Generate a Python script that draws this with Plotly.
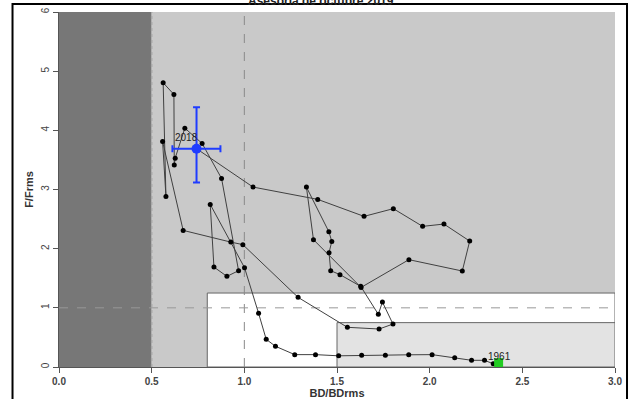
import plotly.graph_objects as go

# trajectory, 1961 -> 2018
bd = [2.343, 2.296, 2.226, 2.135, 2.013, 1.887, 1.761, 1.633, 1.509, 1.384, 1.272,
      1.168, 1.118, 1.077, 1.001, 0.816, 0.836, 0.906, 0.969, 0.877, 0.772, 0.679,
      0.627, 0.622, 0.620, 0.562, 0.577, 0.559, 0.670, 0.927, 0.992, 1.290, 1.556,
      1.727, 1.802, 1.745, 1.723, 1.628, 1.516, 1.466, 1.457, 1.472, 1.456, 1.335,
      1.373, 1.630, 1.888, 2.176, 2.216, 2.077, 1.962, 1.804, 1.646, 1.396, 1.047,
      0.742]
f = [0.054, 0.113, 0.113, 0.155, 0.209, 0.206, 0.198, 0.198, 0.189, 0.209, 0.209,
     0.350, 0.468, 0.907, 1.679, 2.748, 1.689, 1.532, 1.628, 3.188, 3.779, 4.037,
     3.530, 3.412, 4.606, 4.804, 2.883, 3.813, 2.309, 2.111, 2.068, 1.177, 0.671,
     0.642, 0.726, 1.098, 0.890, 1.363, 1.561, 1.628, 1.932, 2.123, 2.287, 3.041,
     2.152, 1.345, 1.814, 1.622, 2.128, 2.416, 2.377, 2.676, 2.546, 2.833, 3.041,
     3.690]

first_year = "1961"
last_year = "2018"
first_pt = (2.372, 0.074)
last_pt = (0.742, 3.690)
last_x_ci = (0.612, 0.871)
last_y_ci = (3.12, 4.39)

x_ticks = [0.0, 0.5, 1.0, 1.5, 2.0, 2.5, 3.0]
x_tick_text = ["0.0", "0.5", "1.0", "1.5", "2.0", "2.5", "3.0"]
y_ticks = [0, 1, 2, 3, 4, 5, 6]

FONT = "Liberation Sans, Arial, sans-serif"

fig = go.Figure()

# background zones
zones = [
    (0.0, 0.5, 0.0, 6.0, "#777777", None),
    (0.5, 3.0, 0.0, 6.0, "#c9c9c9", None),
    (0.8, 3.0, 0.0, 1.25, "#ffffff", "#666666"),
    (1.5, 3.0, 0.0, 0.75, "#e3e3e3", "#666666"),
]
for x0, x1, y0, y1, fill, edge in zones:
    fig.add_shape(type="rect", x0=x0, x1=x1, y0=y0, y1=y1, layer="below",
                  fillcolor=fill, line=dict(width=1 if edge else 0, color=edge or fill))

# reference lines
fig.add_shape(type="line", x0=0.5, x1=0.5, y0=0, y1=6, layer="below",
              line=dict(color="#a8a8a8", width=1.5, dash="dot"))
fig.add_shape(type="line", x0=1.0, x1=1.0, y0=0, y1=6, layer="below",
              line=dict(color="#8a8a8a", width=1, dash="dash"))
fig.add_shape(type="line", x0=0, x1=3, y0=1, y1=1, layer="below",
              line=dict(color="#999999", width=1, dash="dash"))

fig.add_trace(go.Scatter(
    x=bd, y=f, mode="lines+markers",
    line=dict(color="#404040", width=1),
    marker=dict(color="black", size=5),
    hoverinfo="skip", showlegend=False,
))

# last year with uncertainty
fig.add_trace(go.Scatter(
    x=[last_pt[0]], y=[last_pt[1]], mode="markers",
    marker=dict(color="#1f3cff", size=10),
    error_x=dict(type="data", symmetric=False,
                 array=[last_x_ci[1] - last_pt[0]], arrayminus=[last_pt[0] - last_x_ci[0]],
                 color="#1f3cff", thickness=2, width=3.5),
    error_y=dict(type="data", symmetric=False,
                 array=[last_y_ci[1] - last_pt[1]], arrayminus=[last_pt[1] - last_y_ci[0]],
                 color="#1f3cff", thickness=2, width=3.5),
    showlegend=False, hoverinfo="skip",
))

# first year
fig.add_trace(go.Scatter(
    x=[first_pt[0]], y=[first_pt[1]], mode="markers",
    marker=dict(color="#22cc22", size=9, symbol="square"),
    showlegend=False, hoverinfo="skip",
))

fig.add_annotation(x=0.688, y=3.885, text=last_year, showarrow=False,
                   font=dict(family=FONT, size=10, color="#222"))
fig.add_annotation(x=2.377, y=0.18, text=first_year, showarrow=False,
                   font=dict(family=FONT, size=10, color="#222"))

# title, cut off by the top edge in the reference
fig.add_annotation(xref="paper", yref="paper", x=0.471, y=1.006, yanchor="bottom",
                   text="<b>Asesoría de octubre 2019</b>", showarrow=False,
                   font=dict(family=FONT, size=12, color="#222"))

# outer frame
fig.add_shape(type="rect", xref="paper", yref="paper", x0=-0.0836, x1=1.0216,
              y0=-0.3, y1=1.0225, line=dict(color="black", width=2))

fig.update_layout(
    width=636, height=399,
    margin=dict(l=59, r=21, t=12, b=32, autoexpand=False),
    paper_bgcolor="white", plot_bgcolor="white",
    font=dict(family=FONT, color="#333"),
    xaxis=dict(range=[0, 3], tickvals=x_ticks, ticktext=[f"<b>{t}</b>" for t in x_tick_text],
               automargin=False,
               showgrid=False, zeroline=False, showline=True, linecolor="#555",
               ticks="outside", ticklen=5, tickcolor="#555",
               tickfont=dict(size=10, color="#444"),
               title=dict(text="<b>BD/BDrms</b>", font=dict(size=11, color="#333"), standoff=2)),
    yaxis=dict(range=[0, 6], tickvals=y_ticks, tickangle=-90, automargin=False,
               showgrid=False, zeroline=False, showline=True, linecolor="#555",
               ticks="outside", ticklen=5, tickcolor="#555",
               tickfont=dict(size=10, color="#444"),
               title=dict(text="<b>F/Frms</b>", font=dict(size=11, color="#333"), standoff=4)),
)

fig.write_html("out.html", config={"displayModeBar": False},
               post_script="document.body.style.margin='0';document.body.style.overflow='hidden';")
